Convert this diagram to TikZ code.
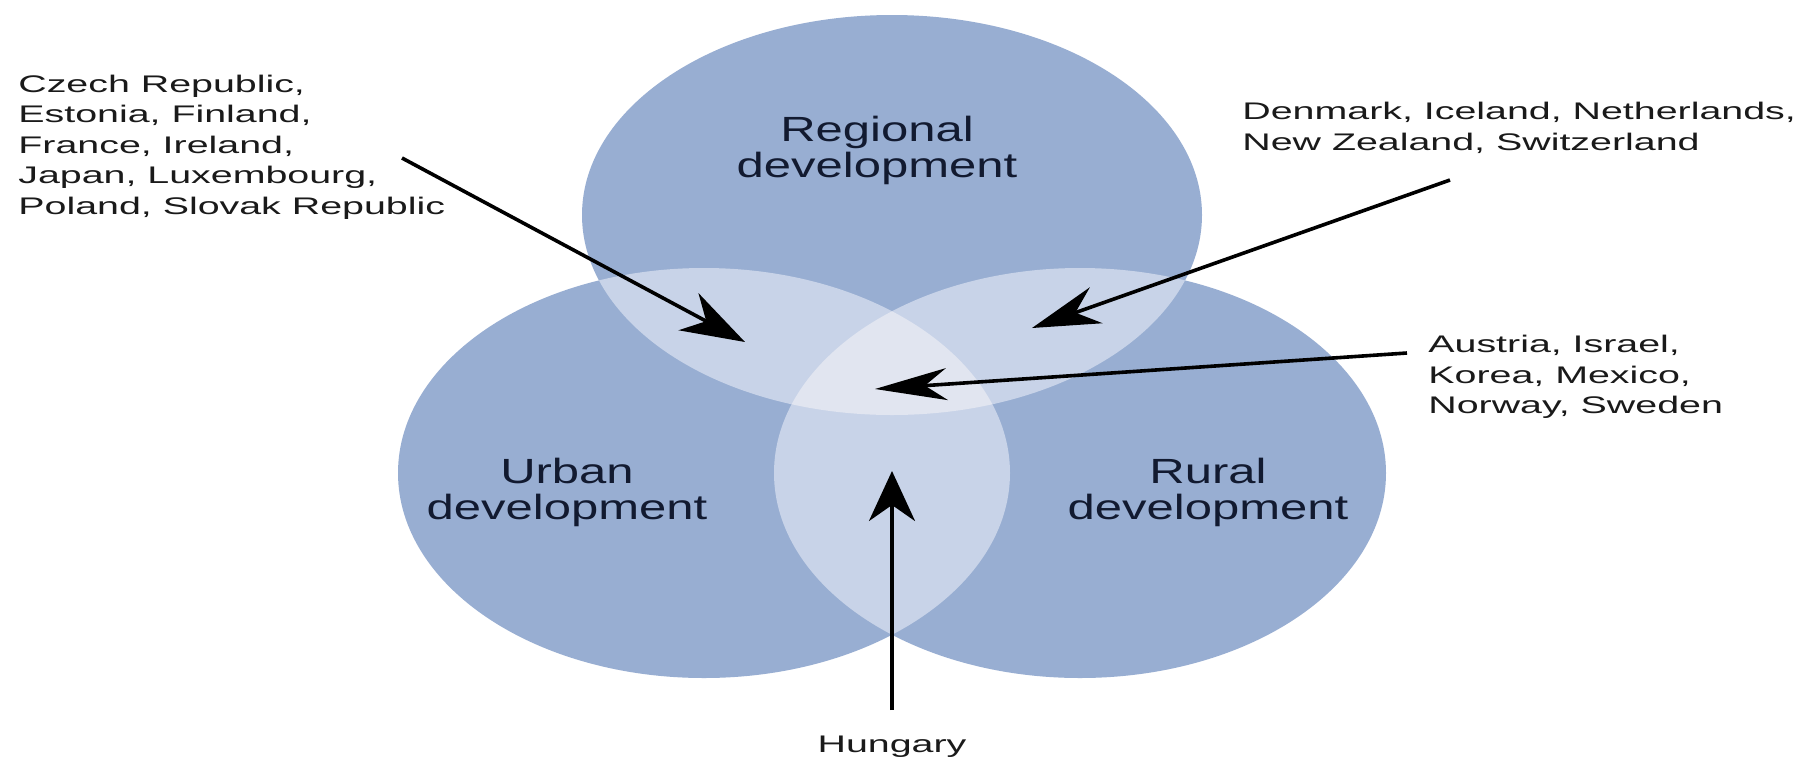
\documentclass[tikz,border=0pt]{standalone}
\usepackage{fontspec}
\setmainfont{Liberation Sans}[FakeStretch=1.64]
\newfontfamily\bigfont{Liberation Sans}[FakeStretch=1.40]
\usetikzlibrary{arrows.meta}
\definecolor{vbase}{HTML}{98AED2}
\definecolor{vpair}{HTML}{C8D3E8}
\definecolor{vtriple}{HTML}{E1E5F0}
\definecolor{vtext}{HTML}{121A30}
\definecolor{ctext}{HTML}{1A1A1A}
\begin{document}
\begin{tikzpicture}[x=0.5pt,y=-0.5pt,
  biglab/.style={align=center,inner sep=0pt,text=vtext,font=\bigfont\fontsize{17.5}{18}\selectfont},
  ctry/.style={align=left,anchor=west,inner sep=0pt,text=ctext,font=\fontsize{12}{15.25}\selectfont},
  arr/.style={line width=1.8pt,draw=black}]
\useasboundingbox (0,0) rectangle (1811,761);
\fill[white] (0,0) rectangle (1811,761);
% base ellipses
\fill[vbase] (892,215) ellipse [x radius=310, y radius=200];
\fill[vbase] (704,473) ellipse [x radius=306, y radius=205];
\fill[vbase] (1080,473) ellipse [x radius=306, y radius=205];
% pairwise overlaps
\begin{scope}
  \clip (892,215) ellipse [x radius=310, y radius=200];
  \fill[vpair] (704,473) ellipse [x radius=306, y radius=205];
  \fill[vpair] (1080,473) ellipse [x radius=306, y radius=205];
\end{scope}
\begin{scope}
  \clip (704,473) ellipse [x radius=306, y radius=205];
  \fill[vpair] (1080,473) ellipse [x radius=306, y radius=205];
\end{scope}
% triple overlap
\begin{scope}
  \clip (892,215) ellipse [x radius=310, y radius=200];
  \clip (704,473) ellipse [x radius=306, y radius=205];
  \fill[vtriple] (1080,473) ellipse [x radius=306, y radius=205];
\end{scope}
% circle labels
\node[biglab] (reg) at (877,150) {Regional\\development};
\node[biglab] (urb) at (567,492) {Urban\\development};
\node[biglab] (rur) at (1208,492) {Rural\\development};
% country labels
\node[ctry] (lefttxt) at (18,147) {Czech Republic,\\Estonia, Finland,\\France, Ireland,\\Japan, Luxembourg,\\Poland, Slovak Republic};
\node[ctry] (righttxt) at (1242,128) {Denmark, Iceland, Netherlands,\\New Zealand, Switzerland};
\node[ctry] (midtxt) at (1428,377) {Austria, Israel,\\Korea, Mexico,\\Norway, Sweden};
\node[ctry,anchor=center] (hun) at (892,747) {Hungary};
% arrow ends
\coordinate (a1s) at (402,158);
\coordinate (a1e) at (745,342);
\coordinate (a2s) at (1450,180);
\coordinate (a2e) at (1032,328);
\coordinate (a3s) at (1407,353);
\coordinate (a3e) at (875,389);
\coordinate (a4s) at (892,710);
\coordinate (a4e) at (892,471);
\draw[arr,-{Stealth[length=32pt,width=21pt,inset=10pt]}] (a1s) -- (a1e);
\draw[arr,-{Stealth[length=34pt,width=19pt,inset=11pt]}] (a2s) -- (a2e);
\draw[arr,-{Stealth[length=36pt,width=16pt,inset=11pt]}] (a3s) -- (a3e);
\draw[arr,-{Stealth[length=25pt,width=23pt,inset=8pt]}] (a4s) -- (a4e);
\end{tikzpicture}
\end{document}
